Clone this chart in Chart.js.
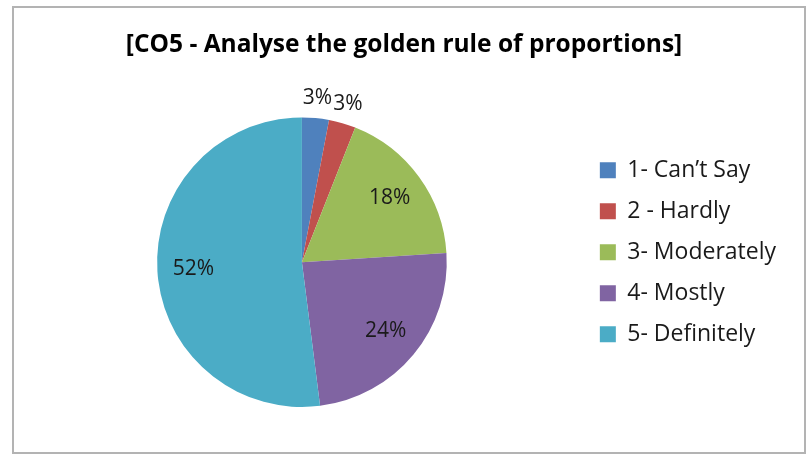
<!DOCTYPE html>
<html>
<head>
<meta charset="utf-8">
<script src="https://cdn.jsdelivr.net/npm/chart.js@4"></script>
<style>
  body { margin: 0; background: #fff; }
  #wrap { position: relative; width: 809px; height: 456px; }
  #frame { position: absolute; left: 12px; top: 6px; width: 790px; height: 444px; border: 2px solid #b3b3b3; pointer-events: none; }
</style>
</head>
<body>
<div id="wrap">
  <canvas id="myChart" width="809" height="456"></canvas>
  <div id="frame"></div>
</div>
<script>
const titleText = '[CO5 - Analyse the golden rule of proportions]'
const categories = ['1- Can\u2019t Say', '2 - Hardly', '3- Moderately', '4- Mostly', '5- Definitely']
const values = [3, 3, 18, 24, 52]
const colors = ['#4f81bd', '#c0504d', '#9bbb59', '#8064a2', '#4bacc6']

const fontFamily = '"Open Sans", "Noto Sans", sans-serif'

// percent labels on / next to each slice
const pctLabels = {
    id: 'pctLabels',
    afterDatasetsDraw(chart) {
        const ctx = chart.ctx
        const meta = chart.getDatasetMeta(0)
        const total = values.reduce((a, b) => a + b, 0)
        ctx.save()
        ctx.font = '21px ' + fontFamily
        ctx.fillStyle = '#1a1a1a'
        ctx.textAlign = 'center'
        ctx.textBaseline = 'middle'
        meta.data.forEach((arc, i) => {
            const p = arc.getProps(['x', 'y', 'startAngle', 'endAngle', 'outerRadius'], true)
            const mid = (p.startAngle + p.endAngle) / 2
            const pct = Math.round(values[i] / total * 100)
            const f = pct < 5 ? 1.14 : 0.75
            const x = p.x + Math.cos(mid) * p.outerRadius * f
            const y = p.y + Math.sin(mid) * p.outerRadius * f
            ctx.fillText(pct + '%', x, y)
        })
        ctx.restore()
    }
}

const data = {
    labels: categories,
    datasets: [{
        data: values,
        backgroundColor: colors,
        borderWidth: 0
    }]
}

const config = {
    type: 'pie',
    data: data,
    options: {
        responsive: false,
        animation: false,
        layout: { padding: { top: 10, left: 22, right: 23, bottom: 49 } },
        plugins: {
            title: {
                display: true,
                text: titleText,
                color: '#000',
                font: { family: fontFamily, size: 24.5, weight: 'bold' },
                padding: { top: 20, bottom: 58 }
            },
            legend: {
                position: 'right',
                // empty legend title only pushes the entries down
                title: { display: true, text: ' ', padding: { top: 0, bottom: 73 } },
                labels: {
                    color: '#1a1a1a',
                    font: { family: fontFamily, size: 23 },
                    boxWidth: 16,
                    boxHeight: 16,
                    padding: 18
                }
            },
            tooltip: { enabled: false }
        }
    },
    plugins: [pctLabels]
}

const myChart = new Chart(document.getElementById('myChart'), config)
</script>
</body>
</html>
